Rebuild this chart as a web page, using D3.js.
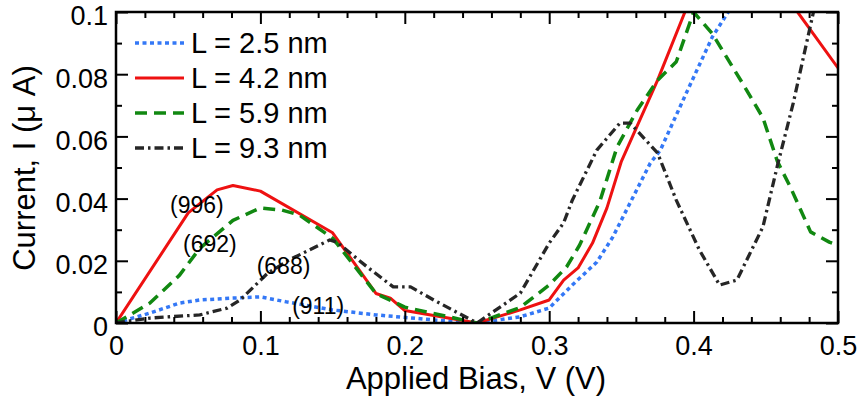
<!DOCTYPE html>
<html>
<head>
<meta charset="utf-8">
<script src="https://cdn.jsdelivr.net/npm/d3@7"></script>
<style>
  body { margin: 0; background: #fff; }
  svg { display: block; font-family: "Liberation Sans", Arial, sans-serif; }
  .tick text { font-size: 27px; fill: #000; }
</style>
</head>
<body>
<div id="chart"></div>
<script>
// values
const seriesNames = ["L = 2.5 nm", "L = 4.2 nm", "L = 5.9 nm", "L = 9.3 nm"];

const x25 = [0, 0.0235, 0.044, 0.058, 0.081, 0.1, 0.118, 0.15, 0.18, 0.22, 0.25, 0.28, 0.3, 0.316, 0.333, 0.344, 0.356, 0.37, 0.377, 0.395, 0.413, 0.424, 0.44];
const y25 = [0, 0.0032, 0.0064, 0.0074, 0.008, 0.0084, 0.0068, 0.0042, 0.0026, 0.001, 0, 0.002, 0.0048, 0.0122, 0.0196, 0.0276, 0.0386, 0.0514, 0.0556, 0.074, 0.092, 0.1, 0.11];

const x42 = [0, 0.05, 0.07, 0.081, 0.1, 0.15, 0.18, 0.19, 0.2, 0.25, 0.28, 0.3, 0.31, 0.32, 0.33, 0.34, 0.35, 0.375, 0.394, 0.41, 0.44, 0.472, 0.5];
const y42 = [0, 0.0354, 0.0428, 0.0442, 0.0424, 0.029, 0.0095, 0.008, 0.004, 0, 0.0042, 0.0074, 0.0138, 0.0177, 0.0257, 0.037, 0.052, 0.078, 0.1, 0.11, 0.115, 0.1, 0.082];

const x59 = [0, 0.0235, 0.044, 0.058, 0.081, 0.1, 0.115, 0.127, 0.15, 0.18, 0.2, 0.25, 0.28, 0.3, 0.312, 0.321, 0.335, 0.347, 0.361, 0.375, 0.388, 0.4, 0.413, 0.434, 0.448, 0.458, 0.467, 0.481, 0.494, 0.5];
const y59 = [0, 0.0064, 0.0154, 0.024, 0.033, 0.037, 0.0363, 0.0347, 0.0273, 0.0095, 0.0051, 0, 0.005, 0.0122, 0.018, 0.025, 0.039, 0.0566, 0.0685, 0.078, 0.084, 0.1, 0.093, 0.077, 0.066, 0.052, 0.0437, 0.0293, 0.026, 0.025];

const x93 = [0, 0.0235, 0.058, 0.077, 0.086, 0.105, 0.12, 0.148, 0.153, 0.174, 0.192, 0.204, 0.22, 0.25, 0.28, 0.3, 0.31, 0.316, 0.333, 0.349, 0.356, 0.375, 0.388, 0.404, 0.418, 0.43, 0.448, 0.458, 0.469, 0.483, 0.49];
const y93 = [0, 0.0016, 0.0026, 0.0048, 0.0074, 0.016, 0.0203, 0.0267, 0.026, 0.018, 0.0116, 0.0116, 0.0074, 0, 0.0096, 0.0257, 0.0322, 0.0395, 0.0556, 0.0643, 0.0643, 0.0547, 0.0395, 0.0235, 0.0122, 0.0138, 0.0309, 0.0505, 0.0707, 0.1, 0.11];

const xMajor = [0, 0.1, 0.2, 0.3, 0.4, 0.5];
const xMinor = [0.02, 0.04, 0.06, 0.08, 0.12, 0.14, 0.16, 0.18, 0.22, 0.24, 0.26, 0.28, 0.32, 0.34, 0.36, 0.38, 0.42, 0.44, 0.46, 0.48];
const yMajor = [0, 0.02, 0.04, 0.06, 0.08, 0.1];
const yMinor = [0.01, 0.03, 0.05, 0.07, 0.09];

// annotation labels (text, x, y at baseline)
const noteText = ["(996)", "(692)", "(688)", "(911)"];
const noteX = [0.056, 0.065, 0.116, 0.140];
const noteY = [0.0354, 0.0227, 0.0157, 0.0029];

const width = 861;
const height = 400;
const margin = {top: 12, right: 23, bottom: 77, left: 116};

const svg = d3.select("#chart").append("svg")
    .attr("width", width)
    .attr("height", height);

const x = d3.scaleLinear().domain([0, 0.5]).range([margin.left, width - margin.right]);
const y = d3.scaleLinear().domain([0, 0.1]).range([height - margin.bottom, margin.top]);

const fmt = d => d === 0 ? "0" : d3.format("~g")(d);

svg.append("clipPath").attr("id", "clip")
  .append("rect")
    .attr("x", margin.left).attr("y", margin.top)
    .attr("width", x(0.5) - x(0)).attr("height", y(0) - y(0.1));

const series = [
  {name: seriesNames[0], xs: x25, ys: y25, color: "#3478f6", width: 3.5, dash: "4,3.5"},
  {name: seriesNames[1], xs: x42, ys: y42, color: "#ee1111", width: 3, dash: null},
  {name: seriesNames[2], xs: x59, ys: y59, color: "#118811", width: 3.5, dash: "12,7"},
  {name: seriesNames[3], xs: x93, ys: y93, color: "#262626", width: 3.3, dash: "9,4,2.5,4"}
];

const line = d3.line().x(d => x(d[0])).y(d => y(d[1]));

const plot = svg.append("g").attr("clip-path", "url(#clip)");
series.forEach(s => {
  plot.append("path")
      .datum(s.xs.map((v, i) => [v, s.ys[i]]))
      .attr("fill", "none")
      .attr("stroke", s.color)
      .attr("stroke-width", s.width)
      .attr("stroke-dasharray", s.dash)
      .attr("stroke-linejoin", "round")
      .attr("d", line);
});

// axes: labelled major ticks, inward
const xAxisG = svg.append("g")
    .attr("transform", `translate(0,${y(0)})`)
    .call(d3.axisBottom(x).tickValues(xMajor).tickFormat(fmt).tickSizeInner(-12).tickSizeOuter(0).tickPadding(12));
const yAxisG = svg.append("g")
    .attr("transform", `translate(${x(0)},0)`)
    .call(d3.axisLeft(y).tickValues(yMajor).tickFormat(fmt).tickSizeInner(-12).tickSizeOuter(0).tickPadding(8));
svg.append("g")
    .attr("transform", `translate(0,${y(0.1)})`)
    .call(d3.axisTop(x).tickValues(xMajor).tickFormat("").tickSizeInner(-12).tickSizeOuter(0));
svg.append("g")
    .attr("transform", `translate(${x(0.5)},0)`)
    .call(d3.axisRight(y).tickValues(yMajor).tickFormat("").tickSizeInner(-12).tickSizeOuter(0));

// minor ticks
svg.append("g")
    .attr("transform", `translate(0,${y(0)})`)
    .call(d3.axisBottom(x).tickValues(xMinor).tickFormat("").tickSizeInner(-6).tickSizeOuter(0));
svg.append("g")
    .attr("transform", `translate(0,${y(0.1)})`)
    .call(d3.axisTop(x).tickValues(xMinor).tickFormat("").tickSizeInner(-6).tickSizeOuter(0));
svg.append("g")
    .attr("transform", `translate(${x(0)},0)`)
    .call(d3.axisLeft(y).tickValues(yMinor).tickFormat("").tickSizeInner(-6).tickSizeOuter(0));
svg.append("g")
    .attr("transform", `translate(${x(0.5)},0)`)
    .call(d3.axisRight(y).tickValues(yMinor).tickFormat("").tickSizeInner(-6).tickSizeOuter(0));

svg.selectAll(".domain").remove();
svg.selectAll(".tick line").attr("stroke", "#000").attr("stroke-width", 2);
svg.selectAll(".tick text").attr("font-family", null).attr("font-size", null);
xAxisG.selectAll(".tick text").attr("dy", "0.75em");
yAxisG.selectAll(".tick text").attr("dy", "0.48em");

svg.append("rect")
    .attr("x", x(0)).attr("y", y(0.1))
    .attr("width", x(0.5) - x(0)).attr("height", y(0) - y(0.1))
    .attr("fill", "none").attr("stroke", "#000").attr("stroke-width", 2.5);

// axis titles
svg.append("text")
    .attr("x", (x(0) + x(0.5)) / 2 - 1)
    .attr("y", 389)
    .attr("text-anchor", "middle")
    .attr("font-size", 31)
    .text("Applied Bias, V (V)");
svg.append("text")
    .attr("transform", "translate(35,168) rotate(-90)")
    .attr("text-anchor", "middle")
    .attr("font-size", 31)
    .text("Current, I (μ A)");

// annotations
svg.append("g").selectAll("text")
  .data(noteText)
  .enter().append("text")
    .attr("x", (d, i) => x(noteX[i]))
    .attr("y", (d, i) => y(noteY[i]))
    .attr("text-anchor", "middle")
    .attr("font-size", 23)
    .text(d => d);

// legend
const legend = svg.append("g");
series.forEach((s, i) => {
  const ly = 43 + i * 35;
  legend.append("line")
      .attr("x1", 135).attr("x2", 184)
      .attr("y1", ly).attr("y2", ly)
      .attr("stroke", s.color)
      .attr("stroke-width", s.width)
      .attr("stroke-dasharray", s.dash);
  legend.append("text")
      .attr("x", 191).attr("y", ly)
      .attr("dy", "0.36em")
      .attr("font-size", 29)
      .text(s.name);
});
</script>
</body>
</html>
